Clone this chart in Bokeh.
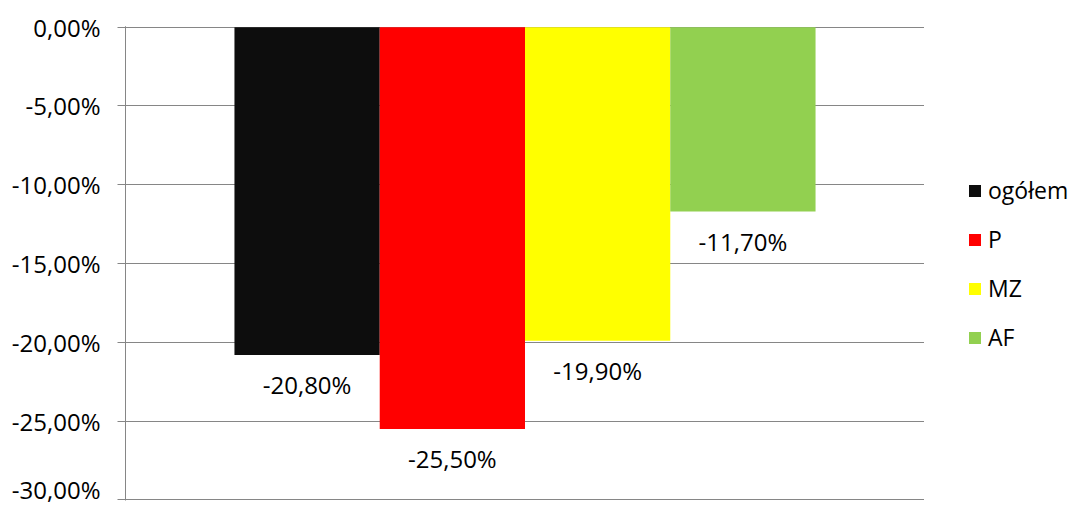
from bokeh.plotting import figure
from bokeh.layouts import row
from bokeh.models import (ColumnDataSource, FactorRange, Range1d, FixedTicker, CustomJSTickFormatter,
                          Legend, LegendItem, LinearAxis)
from bokeh.core.properties import value
from bokeh.embed import file_html
from bokeh.resources import INLINE

categories = ["ogółem", "P", "MZ", "AF"]
values = [-20.8, -25.5, -19.9, -11.7]
labels = ["-20,80%", "-25,50%", "-19,90%", "-11,70%"]
colors = ["#0d0d0d", "#ff0000", "#ffff00", "#92d050"]
y_ticks = [0, -5, -10, -15, -20, -25, -30]

FONT = "Open Sans"
GRID = "#868686"
H = 505
GAP = 0.75  # Excel gap width 150% split on both sides of the single category group
n = len(categories)
xs = [GAP + i + 0.5 for i in range(n)]
x_end = n + 2 * GAP

src = ColumnDataSource(dict(x=xs, cat=categories, val=values, lab=labels, col=colors))

p = figure(width=924, height=H, output_backend="svg", toolbar_location=None,
           x_range=Range1d(0, x_end), y_range=Range1d(-30.04, 0.04),
           min_border_left=125, min_border_top=26, min_border_right=0, min_border_bottom=5)
p.outline_line_color = None
p.background_fill_color = "white"

p.vbar(x="x", top="val", bottom=0, width=1.0, fill_color="col", line_color=None, source=src)

p.text(x="x", y="val", text="lab", source=src, text_align="center", text_baseline="middle",
       y_offset=30, text_font=value(FONT), text_font_size="24px", text_color="black")

p.xaxis.visible = False
p.xgrid.visible = False

# category axis tick marks along the top (zero) line, at the category group edges
top_axis = LinearAxis(ticker=FixedTicker(ticks=[0, x_end]),
                      formatter=CustomJSTickFormatter(code="return '';"),
                      major_tick_in=8, major_tick_out=0, major_tick_line_color=GRID,
                      axis_line_color=None, minor_tick_line_color=None,
                      major_label_standoff=0)
p.add_layout(top_axis, "above")

ya = p.yaxis[0]
ya.ticker = FixedTicker(ticks=y_ticks)
ya.formatter = CustomJSTickFormatter(code="return tick.toFixed(2).replace('.', ',') + '%';")
ya.axis_line_color = GRID
ya.major_tick_line_color = GRID
ya.major_tick_in = 0
ya.major_tick_out = 8
ya.minor_tick_line_color = None
ya.major_label_standoff = 17
ya.major_label_text_font = FONT
ya.major_label_text_font_size = "24px"
ya.major_label_text_color = "black"

p.ygrid.grid_line_color = GRID
p.ygrid.grid_line_width = 1
p.ygrid.ticker = FixedTicker(ticks=y_ticks)

# legend panel (zero-width bars outside its view; they only feed the legend swatches)
p2 = figure(width=148, height=H, output_backend="svg", toolbar_location=None,
            x_range=FactorRange(factors=categories), y_range=Range1d(1000, 2000),
            min_border_left=0, min_border_right=0, min_border_top=0, min_border_bottom=0)
p2.outline_line_color = None
p2.axis.visible = False
p2.grid.visible = False
r2 = p2.vbar(x="cat", top="val", bottom=0, width=0.0, fill_color="col", line_color=None, source=src)

items = [LegendItem(label=c, renderers=[r2], index=i) for i, c in enumerate(categories)]
legend = Legend(items=items, location=(43, 147), orientation="vertical",
                glyph_width=15, glyph_height=15, label_standoff=6, spacing=17, label_height=31,
                padding=0, margin=0, border_line_color=None, background_fill_alpha=0,
                label_text_font=FONT, label_text_font_size="23px", label_text_color="black")
p2.add_layout(legend, "center")

open("out.html", "w").write(file_html(row(p, p2), INLINE))
